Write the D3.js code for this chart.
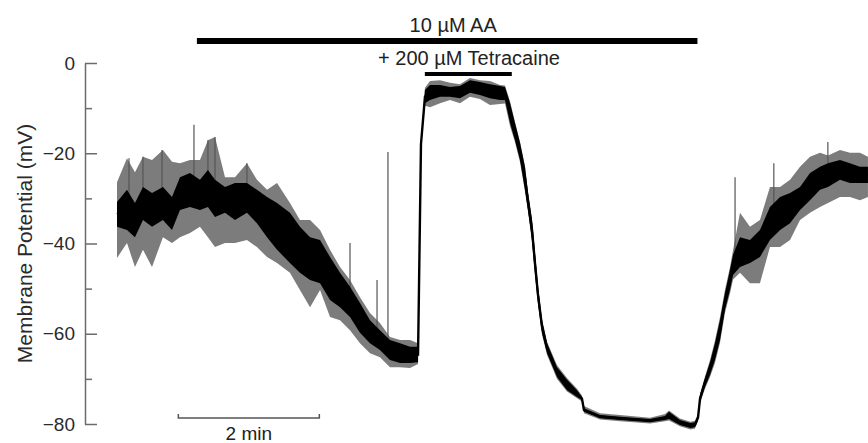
<!DOCTYPE html>
<html>
<head>
<meta charset="utf-8">
<script src="https://cdn.jsdelivr.net/npm/d3@7"></script>
<style>
  body { margin: 0; background: #fff; }
  svg { display: block; font-family: "Liberation Sans", Arial, sans-serif; }
</style>
</head>
<body>
<svg id="chart" width="868" height="443"></svg>
<script>
// trace: time (s), potential (mV)
// outer = tips of the noise, core = dense part of the trace
const traceTime = [0, 8.5, 15.3, 22.1, 29.8, 39.1, 46.8, 53.6, 62.1, 70.6, 77.4, 83.4, 91.9, 100.4, 110.6, 119.1,
  127.7, 136.2, 147.2, 155.7, 164.3, 172.8, 181.3, 189.8, 198.3, 206.8, 215.3, 223.8, 232.3, 240.9, 249.4, 256.2,
  257.0, 258.7, 262.1, 266.4, 274.9, 283.4, 291.9, 300.4, 308.9, 317.4, 326.0, 330.2, 334.5, 338.7, 343.0, 347.2,
  349.8, 353.2, 355.7, 358.3, 361.7, 366.0, 374.5, 383.0, 391.5, 395.7, 397.4, 411.1, 428.1, 453.6, 466.4, 469.8,
  479.1, 488.1, 491.9, 494.5, 496.2, 500.4, 504.7, 508.9, 513.2, 517.4, 521.7, 524.3, 530.2, 538.7, 547.2, 555.7,
  564.3, 572.8, 581.3, 589.8, 598.3, 605.1, 615.3, 623.8, 632.3, 639.1];
const outerHigh = [-26.4, -21.1, -24.2, -20.8, -21.5, -19.3, -21.9, -22.2, -21.5, -21.5, -17.1, -16.4, -25.3, -25.3, -22.2, -25.9,
  -28.1, -26.6, -31.0, -34.8, -34.8, -37.0, -41.4, -45.2, -48.1, -51.9, -55.4, -57.6, -60.7, -61.4, -61.4, -62.1,
  -48, -17, -5.5, -4.0, -3.8, -4.4, -4.7, -3.3, -3.8, -4.0, -4.9, -5.0, -8.5, -13.0, -17.5, -22.8,
  -28.5, -34.5, -41.8, -49.3, -56.7, -61.8, -67.0, -69.8, -72.2, -73.7, -76.0, -77.6, -78.0, -78.6, -77.8, -77.0,
  -78.8, -79.5, -79.3, -77.8, -73.3, -69.5, -65.8, -61.5, -56.3, -50.3, -45.2, -41.5, -33.2, -36.3, -34.8, -27.5,
  -27.5, -25.9, -23.0, -20.8, -19.9, -20.5, -19.3, -19.9, -19.9, -20.8];
const coreHigh = [-30.8, -28.1, -31.0, -27.5, -28.8, -27.5, -29.7, -25.3, -24.4, -25.9, -23.7, -25.9, -27.5, -26.6, -26.6, -28.1,
  -29.7, -31.0, -33.2, -36.3, -38.6, -39.2, -43.0, -46.5, -49.6, -53.2, -57.0, -59.2, -61.4, -62.1, -62.9, -62.9,
  -49, -17.5, -6.0, -4.9, -4.9, -5.3, -5.1, -3.8, -4.2, -4.7, -5.1, -5.3, -8.9, -13.3, -17.7, -23.0,
  -28.8, -34.8, -42.1, -49.6, -57.0, -62.1, -67.4, -70.2, -72.5, -74.0, -76.5, -78.0, -78.4, -78.9, -78.2, -77.3,
  -79.1, -79.8, -79.6, -78.0, -73.6, -69.8, -66.3, -62.1, -57.0, -51.0, -45.9, -42.5, -38.6, -39.2, -37.0, -31.9,
  -29.7, -28.8, -27.5, -24.4, -23.0, -22.2, -21.5, -22.2, -23.0, -23.0];
const coreLow = [-36.3, -37.0, -38.6, -34.8, -36.3, -34.8, -37.0, -32.6, -31.9, -32.6, -31.9, -34.1, -33.2, -34.8, -33.2, -35.5,
  -38.6, -41.4, -44.3, -46.5, -48.1, -48.8, -52.5, -54.1, -56.3, -59.8, -62.1, -63.6, -65.8, -66.5, -66.5, -66.3,
  -51, -18.5, -8.9, -8.2, -7.5, -7.5, -7.8, -6.6, -7.1, -7.8, -8.2, -8.2, -13.3, -17.1, -21.5, -28.1,
  -32.6, -39.2, -46.5, -53.2, -59.8, -64.3, -69.6, -72.5, -74.0, -74.7, -77.3, -78.7, -79.1, -79.6, -79.1, -78.9,
  -80.2, -80.9, -80.7, -79.1, -75.1, -71.8, -69.1, -65.8, -61.4, -54.7, -50.3, -47.0, -45.2, -44.3, -43.0, -39.2,
  -37.0, -35.5, -32.6, -30.4, -28.1, -27.5, -25.9, -26.6, -26.6, -26.6];
const outerLow = [-43.2, -39.9, -45.2, -41.4, -45.2, -38.6, -39.9, -38.6, -37.7, -36.3, -38.6, -40.8, -39.9, -39.9, -39.2, -40.8,
  -43.0, -44.3, -46.5, -50.3, -54.1, -50.3, -56.3, -57.0, -59.2, -62.1, -64.3, -65.2, -67.4, -67.4, -67.6, -66.7,
  -52, -19, -9.5, -9.8, -8.9, -8.2, -8.9, -7.5, -8.0, -9.3, -9.1, -9.0, -14.0, -17.5, -22.0, -28.5,
  -33.0, -39.6, -47.0, -53.5, -60.2, -64.7, -70.0, -72.8, -74.3, -75.0, -77.6, -79.0, -79.4, -79.9, -79.4, -79.2,
  -80.5, -81.2, -81.0, -79.4, -75.4, -72.2, -69.6, -66.5, -62.0, -55.4, -51.0, -48.0, -46.5, -48.8, -48.8, -40.8,
  -40.8, -39.2, -34.8, -33.2, -31.9, -31.0, -29.7, -29.7, -30.4, -29.7];

// single large deflections
const spikeTime = [10.2, 22.1, 38.3, 65.5, 77.4, 83.4, 110.6, 198.3, 221.3, 230.6, 526, 559, 605];
const spikeBase = [-32, -30, -30, -30, -28, -30, -30, -53, -60, -63, -44, -36, -25];
const spikePeak = [-21.1, -20.8, -19.3, -13.7, -17.1, -16.4, -22.2, -39.9, -48.1, -19.7, -25.3, -22.2, -17.5];

// drug application bars
const drugLabels = ["10 µM AA", "+ 200 µM Tetracaine"];
const drugStart = [68, 262];
const drugEnd = [494, 336];

const yTicks = [-80, -60, -40, -20, 0];
const yMinorTicks = [-70, -50, -30, -10];
const scaleBarSeconds = 120;
const scaleBarLabel = "2 min";

const svg = d3.select("#chart");

const x = d3.scaleLinear().domain([0, 640]).range([117, 869]);
const y = d3.scaleLinear().domain([-80, 0]).range([424, 63]);

const rows = traceTime.map((t, i) => ({
  t: t, oh: outerHigh[i], ch: coreHigh[i], cl: coreLow[i], ol: outerLow[i]
}));

// y axis, ticks point inward
const yAxis = svg.append("g")
  .attr("transform", "translate(85,0)")
  .call(d3.axisLeft(y).tickValues(yTicks).tickSizeInner(-12).tickSizeOuter(0).tickPadding(10));

svg.append("g")
  .attr("transform", "translate(85,0)")
  .call(d3.axisLeft(y).tickValues(yMinorTicks).tickSizeInner(-7).tickSizeOuter(0).tickFormat(""))
  .select(".domain").remove();

svg.selectAll(".tick line, .domain")
  .attr("stroke", "#6b6b6b")
  .attr("stroke-width", 1.5);

yAxis.selectAll("text")
  .attr("fill", "#2a2a2a")
  .style("font-size", "19px");

svg.append("text")
  .attr("transform", `translate(32, ${(63 + 424) / 2}) rotate(-90)`)
  .attr("text-anchor", "middle")
  .attr("fill", "#2a2a2a")
  .style("font-size", "21px")
  .text("Membrane Potential (mV)");

// trace
const plot = svg.append("g");

plot.append("path")
  .datum(rows)
  .attr("fill", "#7c7c7c")
  .attr("d", d3.area().x(d => x(d.t)).y0(d => y(d.ol)).y1(d => y(d.oh)));

plot.selectAll(".spike")
  .data(spikeTime)
  .join("line")
  .attr("class", "spike")
  .attr("x1", d => x(d))
  .attr("x2", d => x(d))
  .attr("y1", (d, i) => y(spikeBase[i]))
  .attr("y2", (d, i) => y(spikePeak[i]))
  .attr("stroke", "#555")
  .attr("stroke-width", 1.2);

plot.append("path")
  .datum(rows)
  .attr("fill", "#000")
  .attr("d", d3.area().x(d => x(d.t)).y0(d => y(d.cl)).y1(d => y(d.ch)));

plot.append("path")
  .datum(rows)
  .attr("fill", "none")
  .attr("stroke", "#000")
  .attr("stroke-width", 2.4)
  .attr("d", d3.line().x(d => x(d.t)).y(d => y((d.ch + d.cl) / 2)));

// drug bars
const barY = [41, 74];
const barW = [6, 4];
const labelY = [32, 65];

drugLabels.forEach((label, i) => {
  svg.append("line")
    .attr("x1", x(drugStart[i]))
    .attr("x2", x(drugEnd[i]))
    .attr("y1", barY[i])
    .attr("y2", barY[i])
    .attr("stroke", "#000")
    .attr("stroke-width", barW[i]);
});

svg.append("text")
  .attr("x", (x(drugStart[0]) + x(drugEnd[0])) / 2 + 6)
  .attr("y", labelY[0])
  .attr("text-anchor", "middle")
  .attr("fill", "#222")
  .style("font-size", "20px")
  .text(drugLabels[0]);

svg.append("text")
  .attr("x", 469)
  .attr("y", labelY[1])
  .attr("text-anchor", "middle")
  .attr("fill", "#222")
  .style("font-size", "20px")
  .text(drugLabels[1]);

// time scale bar
const sb0 = 52.2;
const sbX0 = x(sb0), sbX1 = x(sb0 + scaleBarSeconds);
svg.append("path")
  .attr("d", `M${sbX0},414V418H${sbX1}V414`)
  .attr("fill", "none")
  .attr("stroke", "#555")
  .attr("stroke-width", 1.5);

svg.append("text")
  .attr("x", (sbX0 + sbX1) / 2)
  .attr("y", 440)
  .attr("text-anchor", "middle")
  .attr("fill", "#222")
  .style("font-size", "19px")
  .text(scaleBarLabel);
</script>
</body>
</html>
